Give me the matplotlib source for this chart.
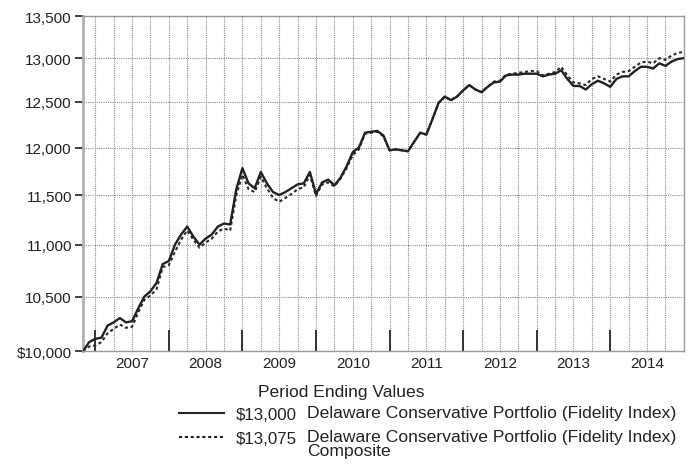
import numpy as np
import matplotlib
matplotlib.use("Agg")
import matplotlib.pyplot as plt
from matplotlib.lines import Line2D
from matplotlib.ticker import NullLocator

plt.rcParams['font.family'] = ['Liberation Sans', 'DejaVu Sans']

# DATA (month-end values, Oct 2006 .. Dec 2014)
fund = [10000, 10080, 10110, 10120, 10230, 10260, 10300, 10260, 10270, 10390,
        10500, 10550, 10630, 10810, 10840, 11000, 11100, 11180, 11080, 11000,
        11060, 11100, 11180, 11210, 11200, 11560, 11780, 11620, 11570, 11740,
        11620, 11530, 11500, 11530, 11570, 11610, 11620, 11740, 11510, 11630,
        11660, 11600, 11680, 11800, 11950, 12000, 12160, 12170, 12180, 12130,
        11970, 11980, 11970, 11960, 12060, 12160, 12140, 12310, 12490, 12560,
        12520, 12560, 12630, 12690, 12640, 12610, 12670, 12720, 12730, 12800,
        12810, 12810, 12820, 12820, 12820, 12790, 12810, 12820, 12860, 12760,
        12680, 12680, 12640, 12700, 12740, 12710, 12670, 12760, 12790, 12790,
        12850, 12900, 12900, 12880, 12940, 12910, 12960, 12990, 13000]
composite = [10000, 10040, 10050, 10080, 10160, 10200, 10240, 10210, 10220, 10350,
             10470, 10510, 10570, 10780, 10800, 10930, 11050, 11140, 11050, 10970,
             11020, 11060, 11130, 11160, 11140, 11500, 11710, 11560, 11530, 11690,
             11570, 11470, 11430, 11470, 11510, 11560, 11580, 11710, 11490, 11610,
             11630, 11590, 11670, 11780, 11920, 11980, 12150, 12160, 12170, 12120,
             11970, 11980, 11970, 11960, 12060, 12160, 12140, 12310, 12490, 12560,
             12520, 12560, 12630, 12690, 12640, 12610, 12670, 12730, 12740, 12810,
             12820, 12830, 12840, 12850, 12850, 12800, 12820, 12840, 12900, 12800,
             12720, 12710, 12690, 12760, 12790, 12760, 12730, 12810, 12840, 12850,
             12900, 12950, 12960, 12940, 13000, 12980, 13030, 13060, 13075]
years = ["2007", "2008", "2009", "2010", "2011", "2012", "2013", "2014"]
yticks = [10000, 10500, 11000, 11500, 12000, 12500, 13000, 13500]
yticklabels = ["$10,000", "10,500", "11,000", "11,500", "12,000", "12,500", "13,000", "13,500"]
labels = ["Delaware Conservative Portfolio (Fidelity Index)",
          "Delaware Conservative Portfolio (Fidelity Index)\nComposite"]

months = np.arange(len(fund))
first_boundary = 2  # months from start to end of 2006
boundaries = [first_boundary + 12 * i for i in range(len(years))]
centers = [b + 6 for b in boundaries]
quarters = np.arange(first_boundary, len(fund) - 1, 3)

fig = plt.figure(figsize=(6.89, 4.77), dpi=100)
ax = fig.add_axes([0.1205, 0.262, 0.872, 0.7023])

for q in quarters:
    ax.axvline(q, color="#8c8c8c", lw=0.8, ls=(0, (1, 1)), zorder=0)
for yt in yticks:
    ax.axhline(yt, color="#8c8c8c", lw=0.8, ls=(0, (1, 1)), zorder=0)

ax.plot(months, composite, color="#2a2a2a", lw=1.5, ls=(0, (1.5, 1.3)), zorder=2)
ax.plot(months, fund, color="#222222", lw=1.7, zorder=3)

ax.set_yscale("log")
ax.set_ylim(10000, 13500)
ax.set_xlim(0, len(fund) - 1)
ax.yaxis.set_minor_locator(NullLocator())
ax.set_yticks(yticks)
ax.set_yticklabels(yticklabels)
ax.tick_params(axis="y", which="major", direction="out", length=6, width=1.3,
               color="#333333", labelsize=11, pad=2, labelcolor="#222222")

ax.set_xticks(boundaries)
ax.set_xticklabels([""] * len(boundaries))
ax.set_xticks(centers, minor=True)
ax.set_xticklabels(years, minor=True)
ax.tick_params(axis="x", which="major", direction="in", length=15, width=1.4, color="#333333")
ax.tick_params(axis="x", which="minor", length=0, labelsize=11, pad=3.5, labelcolor="#222222")

for side in ["top", "right", "bottom"]:
    ax.spines[side].set_color("#999999")
    ax.spines[side].set_linewidth(1.0)
ax.spines["left"].set_color("#b0b0b0")
ax.spines["left"].set_linewidth(2.0)

# legend block
fig.text(0.495, 0.178, "Period Ending Values", ha="center", va="center", fontsize=12.6, color="#222222")
rows_y = [0.132, 0.0818]
styles = ["-", (0, (1.5, 1.3))]
finals = [fund[-1], composite[-1]]
for yy, st, fv, lab in zip(rows_y, styles, finals, labels):
    fig.add_artist(Line2D([0.260, 0.325], [yy, yy], color="#222222", lw=1.5, ls=st,
                          transform=fig.transFigure))
    fig.text(0.342, yy - 0.003, "${:,.0f}".format(fv), ha="left", va="center", fontsize=12.2, color="#222222")
    fig.text(0.4455, yy + 0.016, lab, ha="left", va="top", fontsize=12.6, color="#222222",
             linespacing=0.92)

fig.savefig("out.png", dpi=100)
